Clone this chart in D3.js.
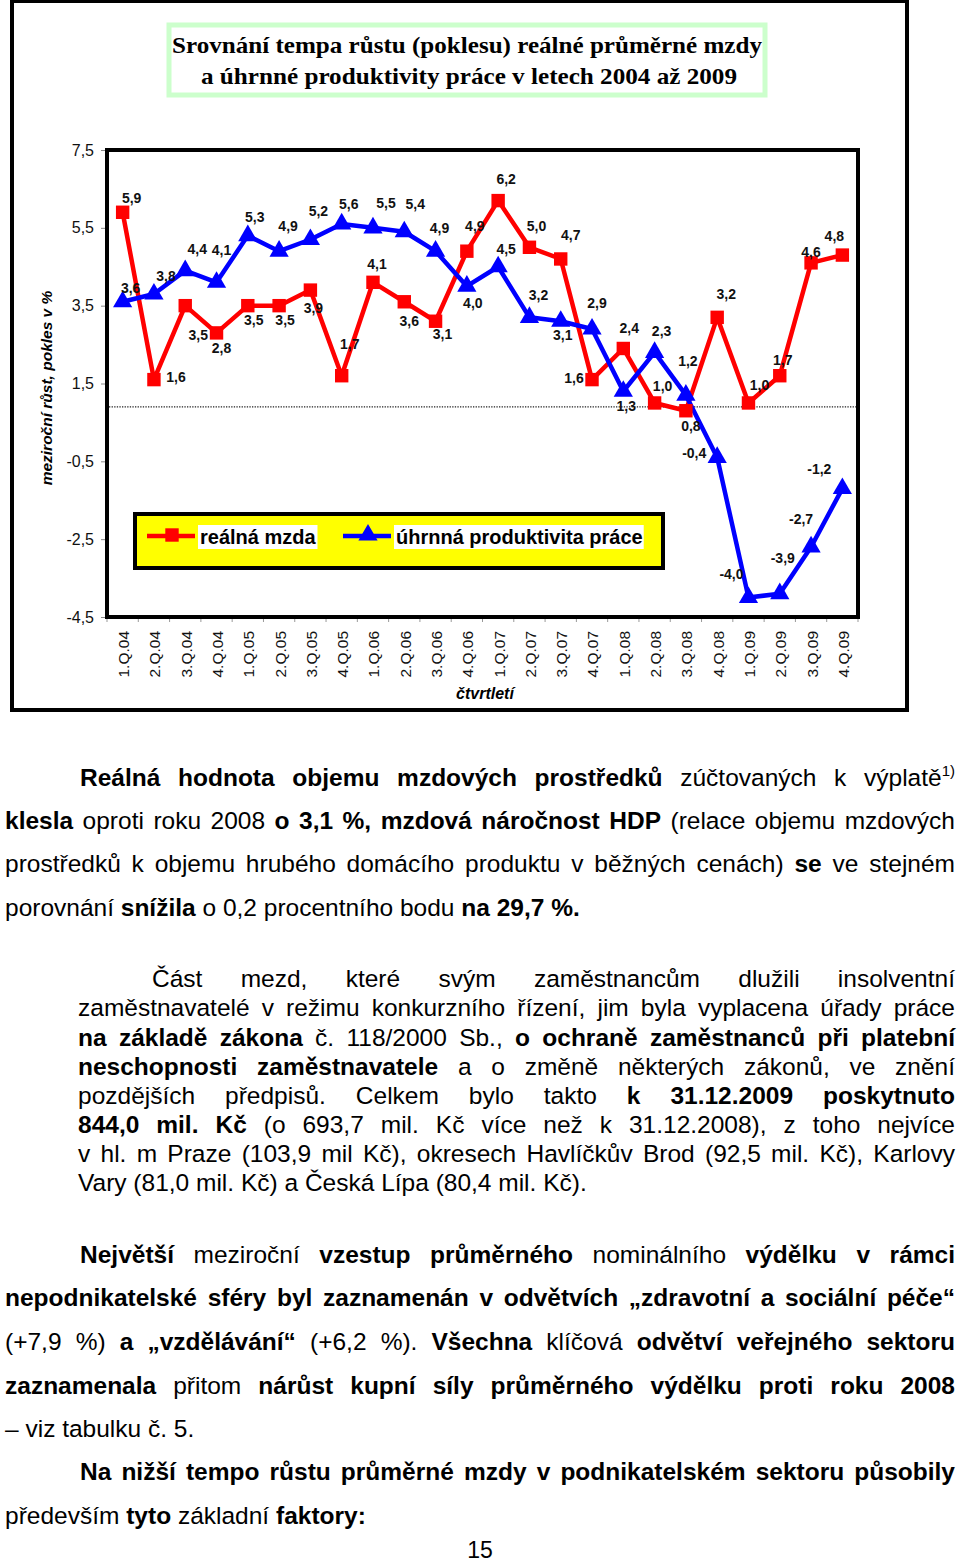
<!DOCTYPE html>
<html>
<head>
<meta charset="utf-8">
<title>Srovnání tempa růstu reálné mzdy a produktivity</title>
<script src="https://d3js.org/d3.v7.min.js"></script>
<style>
  body { margin: 0; background: #fff; }
  svg text { font-family: "Liberation Sans", Arial, sans-serif; }
  .title { font-family: "Liberation Serif", "Times New Roman", serif !important; font-weight: bold; }
</style>
</head>
<body>
<script>
// --- data ---
var categories = ['1.Q.04','2.Q.04','3.Q.04','4.Q.04','1.Q.05','2.Q.05','3.Q.05','4.Q.05',
                  '1.Q.06','2.Q.06','3.Q.06','4.Q.06','1.Q.07','2.Q.07','3.Q.07','4.Q.07',
                  '1.Q.08','2.Q.08','3.Q.08','4.Q.08','1.Q.09','2.Q.09','3.Q.09','4.Q.09'];
var wageValues = [5.9, 1.6, 3.5, 2.8, 3.5, 3.5, 3.9, 1.7, 4.1, 3.6, 3.1, 4.9,
                  6.2, 5.0, 4.7, 1.6, 2.4, 1.0, 0.8, 3.2, 1.0, 1.7, 4.6, 4.8];
var productivityValues = [3.6, 3.8, 4.4, 4.1, 5.3, 4.9, 5.2, 5.6, 5.5, 5.4, 4.9, 4.0,
                          4.5, 3.2, 3.1, 2.9, 1.3, 2.3, 1.2, -0.4, -4.0, -3.9, -2.7, -1.2];
var yTicks = [7.5, 5.5, 3.5, 1.5, -0.5, -2.5, -4.5];
var refLineValue = 0.9;
var seriesNames = ['reálná mzda', 'úhrnná produktivita práce'];

// label offsets (px) from each point, picked to match the original placement
var wageLabelOffsets = [[9,-14],[22,-3],[13,29],[5,15],[6,14],[6,14],[3,18],[8,-32],
                        [4,-18],[5,19],[7,13],[8,-25],[8,-21],[7,-21],[10,-24],[-18,-2],
                        [6,-20],[8,-17],[5,15],[9,-23],[11,-18],[3,-16],[0,-11],[-8,-19]];
var prodLabelOffsets = [[8,-14],[12,-18],[12,-22],[5,-32],[7,-19],[9,-25],[8,-28],[7,-20],
                        [13,-25],[11,-28],[4,-23],[6,17],[8,-18],[9,-22],[2,14],[5,-26],
                        [3,15],[7,-21],[2,-34],[-23,-4],[-17,-23],[3,-36],[-10,-28],[-23,-19]];

// paragraph lines: [text, bold] segments
var para1 = [
  [['Reálná hodnota objemu mzdových prostředků', 1], ['zúčtovaných k výplatě', 0], ['1)', 0, 'sup']],
  [['klesla', 1], ['oproti roku 2008', 0], ['o 3,1 %, mzdová náročnost HDP', 1], ['(relace objemu mzdových', 0]],
  [['prostředků k objemu hrubého domácího produktu v běžných cenách)', 0], ['se', 1], ['ve stejném', 0]],
  [['porovnání', 0], ['snížila', 1], ['o 0,2 procentního bodu', 0], ['na 29,7 %.', 1]]
];
var para2 = [
  [['Část mezd, které svým zaměstnancům dlužili insolventní', 0]],
  [['zaměstnavatelé v režimu konkurzního řízení, jim byla vyplacena úřady práce', 0]],
  [['na základě zákona', 1], ['č. 118/2000 Sb.,', 0], ['o ochraně zaměstnanců při platební', 1]],
  [['neschopnosti zaměstnavatele', 1], ['a o změně některých zákonů, ve znění', 0]],
  [['pozdějších předpisů. Celkem bylo takto', 0], ['k 31.12.2009 poskytnuto', 1]],
  [['844,0 mil. Kč', 1], ['(o 693,7 mil. Kč více než k 31.12.2008), z toho nejvíce', 0]],
  [['v hl. m Praze (103,9 mil Kč), okresech Havlíčkův Brod (92,5 mil. Kč), Karlovy', 0]],
  [['Vary (81,0 mil. Kč) a Česká Lípa (80,4 mil. Kč).', 0]]
];
var para3 = [
  [['Největší', 1], ['meziroční', 0], ['vzestup průměrného', 1], ['nominálního', 0], ['výdělku v rámci', 1]],
  [['nepodnikatelské sféry byl zaznamenán v odvětvích „zdravotní a sociální péče“', 1]],
  [['(+7,9 %)', 0], ['a „vzdělávání“', 1], ['(+6,2 %).', 0], ['Všechna', 1], ['klíčová', 0], ['odvětví veřejného sektoru', 1]],
  [['zaznamenala', 1], ['přitom', 0], ['nárůst kupní síly průměrného výdělku proti roku 2008', 1]],
  [['– viz tabulku č. 5.', 0]],
  [['Na nižší tempo růstu průměrné mzdy v podnikatelském sektoru působily', 1]],
  [['především', 0], ['tyto', 1], ['základní', 0], ['faktory:', 1]]
];

var W = 960, H = 1565;
var textSize = 24.5;
var fmt = d3.formatLocale({decimal: ',', thousands: ' ', grouping: [3], currency: ['', ''], minus: '-'}).format('.1f');

var svg = d3.select('body').append('svg')
  .attr('width', W).attr('height', H);

svg.append('rect').attr('width', W).attr('height', H).attr('fill', '#fff');

// outer chart frame
svg.append('rect')
  .attr('x', 12).attr('y', 1).attr('width', 895).attr('height', 709)
  .attr('fill', 'none').attr('stroke', '#000').attr('stroke-width', 4);

// title box
svg.append('rect')
  .attr('x', 169).attr('y', 25).attr('width', 596).attr('height', 70)
  .attr('fill', '#fff').attr('stroke', '#ccffcc').attr('stroke-width', 5);

svg.append('text').attr('class', 'title')
  .attr('x', 467).attr('y', 53).attr('text-anchor', 'middle')
  .attr('font-size', 24).attr('textLength', 590).attr('lengthAdjust', 'spacingAndGlyphs')
  .text('Srovnání tempa růstu (poklesu) reálné průměrné mzdy');
svg.append('text').attr('class', 'title')
  .attr('x', 469).attr('y', 84).attr('text-anchor', 'middle')
  .attr('font-size', 24).attr('textLength', 536).attr('lengthAdjust', 'spacingAndGlyphs')
  .text('a úhrnné produktivity práce v letech 2004 až 2009');

// scales
var plot = {left: 107, right: 858, top: 150, bottom: 617};
var xBand = d3.scaleBand().domain(categories).range([plot.left, plot.right]);
var x = function(c) { return xBand(c) + xBand.bandwidth() / 2; };
var y = d3.scaleLinear().domain([-4.5, 7.5]).range([plot.bottom, plot.top]);

svg.append('rect')
  .attr('x', plot.left).attr('y', plot.top)
  .attr('width', plot.right - plot.left).attr('height', plot.bottom - plot.top)
  .attr('fill', '#fff');

// y axis
var yAxis = svg.append('g')
  .attr('transform', 'translate(' + (plot.left - 1) + ',0)')
  .call(d3.axisLeft(y).tickValues(yTicks).tickSize(5).tickPadding(7).tickFormat(fmt));
yAxis.select('.domain').remove();
yAxis.selectAll('line').attr('stroke', '#888');
yAxis.selectAll('text').attr('font-size', 16).attr('fill', '#111')
  .style('font-family', '"Liberation Sans", Arial, sans-serif');

svg.append('text')
  .attr('transform', 'translate(52,388) rotate(-90)')
  .attr('text-anchor', 'middle')
  .attr('font-size', 15.5).attr('font-weight', 'bold').attr('font-style', 'italic')
  .text('meziroční růst, pokles v %');

// x axis ticks at band edges
var edges = categories.map(function(c) { return xBand(c); }).concat([plot.right]);
svg.append('g').selectAll('line').data(edges).enter().append('line')
  .attr('x1', function(d) { return d; }).attr('x2', function(d) { return d; })
  .attr('y1', plot.bottom).attr('y2', plot.bottom + 5)
  .attr('stroke', '#999');

svg.append('g').selectAll('text').data(categories).enter().append('text')
  .attr('transform', function(d) { return 'translate(' + (x(d) + 1) + ',631) rotate(-90)'; })
  .attr('text-anchor', 'end').attr('dy', '0.35em')
  .attr('font-size', 15.5).attr('fill', '#111')
  .text(function(d) { return d; });

svg.append('text')
  .attr('x', 485).attr('y', 699).attr('text-anchor', 'middle')
  .attr('font-size', 16).attr('font-weight', 'bold').attr('font-style', 'italic')
  .text('čtvrtletí');

// dotted reference line
svg.append('line')
  .attr('x1', plot.left + 2).attr('x2', plot.right - 2)
  .attr('y1', y(refLineValue)).attr('y2', y(refLineValue))
  .attr('stroke', '#222').attr('stroke-width', 1.3).attr('stroke-dasharray', '1.3,1.3');

// series
var line = d3.line()
  .x(function(d, i) { return x(categories[i]); })
  .y(function(d) { return y(d); });

var series = [
  {values: wageValues, color: '#ff0000', symbol: d3.symbolSquare, size: 180, offsets: wageLabelOffsets},
  {values: productivityValues, color: '#0000ff', symbol: d3.symbolTriangle, size: 160, offsets: prodLabelOffsets}
];

series.forEach(function(s) {
  svg.append('path').datum(s.values)
    .attr('d', line).attr('fill', 'none')
    .attr('stroke', s.color).attr('stroke-width', 4.5).attr('stroke-linejoin', 'round');
});
series.forEach(function(s) {
  svg.append('g').selectAll('path').data(s.values).enter().append('path')
    .attr('d', d3.symbol().type(s.symbol).size(s.size))
    .attr('transform', function(d, i) { return 'translate(' + x(categories[i]) + ',' + y(d) + ')'; })
    .attr('fill', s.color);
});
series.forEach(function(s) {
  svg.append('g').selectAll('text').data(s.values).enter().append('text')
    .attr('x', function(d, i) { return x(categories[i]) + s.offsets[i][0]; })
    .attr('y', function(d, i) { return y(d) + s.offsets[i][1]; })
    .attr('dy', '0.35em').attr('text-anchor', 'middle')
    .attr('font-size', 14).attr('font-weight', 'bold').attr('fill', '#111')
    .text(function(d) { return fmt(d); });
});

// plot frame
svg.append('rect')
  .attr('x', plot.left).attr('y', plot.top)
  .attr('width', plot.right - plot.left).attr('height', plot.bottom - plot.top)
  .attr('fill', 'none').attr('stroke', '#000').attr('stroke-width', 4);

// legend
var legend = svg.append('g');
legend.append('rect')
  .attr('x', 135).attr('y', 514).attr('width', 528).attr('height', 54)
  .attr('fill', '#ffff00').attr('stroke', '#000').attr('stroke-width', 4);

var legendItems = [
  {name: seriesNames[0], s: series[0], lx: 147, tx: 200},
  {name: seriesNames[1], s: series[1], lx: 343, tx: 396}
];
legendItems.forEach(function(it) {
  var t = legend.append('text')
    .attr('x', it.tx).attr('y', 537).attr('dy', '0.35em')
    .attr('font-size', 20).attr('font-weight', 'bold')
    .text(it.name);
  var bb = t.node().getBBox();
  legend.insert('rect', function() { return t.node(); })
    .attr('x', bb.x - 2).attr('y', 525).attr('width', bb.width + 3).attr('height', 24)
    .attr('fill', '#fff');
  legend.append('line')
    .attr('x1', it.lx).attr('x2', it.lx + 48).attr('y1', 536).attr('y2', 536)
    .attr('stroke', it.s.color).attr('stroke-width', 4.5);
  legend.append('path')
    .attr('d', d3.symbol().type(it.s.symbol).size(it.s.size))
    .attr('transform', 'translate(' + (it.lx + 25) + ',' + 535 + ')')
    .attr('fill', it.s.color);
});

// --- text paragraphs, word-justified ---
var measurer = svg.append('text').attr('opacity', 0);
function measure(str, bold, size) {
  measurer.attr('font-weight', bold ? 'bold' : 'normal').attr('font-size', size).text(str);
  return measurer.node().getComputedTextLength();
}

function drawLine(yb, x0, x1, segs, justify) {
  var words = [];
  segs.forEach(function(sg) {
    if (sg[2] === 'sup') {
      words[words.length - 1].push({t: sg[0], b: sg[1], size: 15, dy: -10});
      return;
    }
    sg[0].split(' ').forEach(function(w) {
      words.push([{t: w, b: sg[1], size: textSize, dy: 0}]);
    });
  });
  var widths = words.map(function(w) {
    return d3.sum(w, function(p) { p.w = measure(p.t, p.b, p.size); return p.w; });
  });
  var total = d3.sum(widths);
  var gap = justify && words.length > 1 ? (x1 - x0 - total) / (words.length - 1)
                                        : measure('a a', 0, textSize) - measure('aa', 0, textSize);
  var cx = x0;
  words.forEach(function(w, i) {
    var px = cx;
    w.forEach(function(p) {
      svg.append('text')
        .attr('x', px).attr('y', yb + p.dy)
        .attr('font-size', p.size).attr('font-weight', p.b ? 'bold' : 'normal')
        .attr('fill', '#000')
        .text(p.t);
      px += p.w;
    });
    cx += widths[i] + gap;
  });
}

function drawPara(lines, baselines, indentX, leftX, rightX) {
  lines.forEach(function(segs, i) {
    drawLine(baselines[i], i === 0 ? indentX : leftX, rightX, segs, i < lines.length - 1);
  });
}

drawPara(para1, [786, 829, 872, 916], 80, 5, 955);
drawPara(para2, [987, 1016, 1046, 1075, 1104, 1133, 1162, 1191], 152, 78, 955);
drawPara(para3.slice(0, 5), [1263, 1306, 1350, 1394, 1437], 80, 5, 955);
drawPara(para3.slice(5), [1480, 1524], 80, 5, 955);

svg.append('text')
  .attr('x', 480).attr('y', 1558).attr('text-anchor', 'middle')
  .attr('font-size', 23).text('15');

measurer.remove();
</script>
</body>
</html>
